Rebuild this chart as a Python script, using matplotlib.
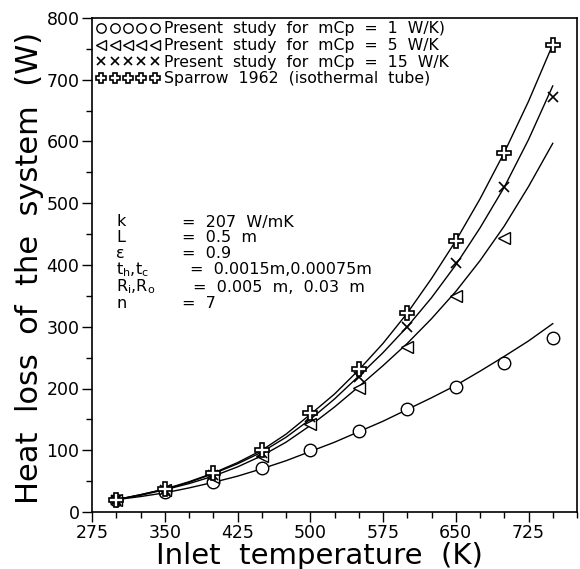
import matplotlib
matplotlib.use("Agg")
import matplotlib.pyplot as plt
import numpy as np

# ---- data ----
T_marker = [300, 350, 400, 450, 500, 550, 600, 650, 700, 750]
q_mcp1 = [20, 32, 49, 71, 101, 131, 167, 202, 241, 282]
T_tri = [300, 350, 400, 450, 500, 550, 600, 650, 700]
q_mcp5 = [20, 35, 57, 90, 143, 201, 267, 350, 444]
q_mcp15 = [20, 36, 60, 95, 154, 219, 300, 403, 526, 672]
q_sparrow = [20, 37, 63, 100, 160, 231, 322, 439, 582, 757]

T_line = [300, 325, 350, 375, 400, 425, 450, 475, 500, 525, 550, 575, 600, 625, 650, 675, 700, 725, 750]
line_mcp1 = [20, 25, 31, 39, 48, 58, 70, 83, 98, 113, 130, 147, 166, 185, 205, 228, 252, 277, 305]
line_mcp5 = [20, 27, 36, 46, 58, 73, 91, 113, 140, 170, 203, 237, 273, 313, 357, 407, 463, 527, 597]
line_mcp15 = [20, 28, 37, 48, 62, 78, 97, 121, 150, 183, 220, 258, 300, 347, 400, 460, 526, 603, 690]
line_sparrow = [20, 28, 37, 49, 63, 80, 100, 126, 158, 191, 230, 273, 322, 378, 439, 507, 582, 665, 757]

legend_labels = ["Present  study  for  mCp  =  1  W/K)",
                 "Present  study  for  mCp  =  5  W/K",
                 "Present  study  for  mCp  =  15  W/K",
                 "Sparrow  1962  (isothermal  tube)"]

x_ticks = [275, 350, 425, 500, 575, 650, 725]
y_ticks = [0, 100, 200, 300, 400, 500, 600, 700, 800]

params_names = ["k", "L", "ε", r"t$_\mathrm{h}$,t$_\mathrm{c}$", r"R$_\mathrm{i}$,R$_\mathrm{o}$", "n"]
params_values = ["=  207  W/mK", "=  0.5  m", "=  0.9", "=  0.0015m,0.00075m", "=  0.005  m,  0.03  m", "=  7"]

# ---- figure ----
W, H = 580, 569
fig = plt.figure(figsize=(W / 100, H / 100), dpi=100)
L, R, B, T = 92, 577, 512, 18
ax = fig.add_axes([L / W, 1 - B / H, (R - L) / W, (B - T) / H])

lw = 1.0
for yl in [line_mcp1, line_mcp5, line_mcp15, line_sparrow]:
    ax.plot(T_line, yl, color="black", lw=lw)

h1, = ax.plot(T_marker, q_mcp1, ls="none", marker="o", ms=9, mfc="white", mec="black", mew=1.0)
h2, = ax.plot(T_tri, q_mcp5, ls="none", marker="<", ms=9, mfc="white", mec="black", mew=1.0)
h3, = ax.plot(T_marker, q_mcp15, ls="none", marker="x", ms=7, color="black", mew=1.2)
h4, = ax.plot(T_marker, q_sparrow, ls="none", marker="P", ms=10, mfc="white", mec="black", mew=1.2)

ax.set_xlim(275, 775)
ax.set_ylim(0, 800)
ax.set_xticks(x_ticks)
ax.set_xticks(np.arange(275, 776, 25), minor=True)
ax.set_yticks(y_ticks)
ax.set_yticks(np.arange(0, 801, 50), minor=True)
ax.tick_params(axis="both", which="major", direction="out", length=7, width=1.0, labelsize=12.5, pad=2)
ax.tick_params(axis="both", which="minor", direction="out", length=4, width=1.0)
for s in ax.spines.values():
    s.set_linewidth(1.2)

ax.set_xlabel("Inlet  temperature  (K)", fontsize=21, labelpad=0)
ax.xaxis.label.set_position(((319 - L) / (R - L), 0))
ax.set_ylabel("Heat  loss  of  the  system  (W)", fontsize=22, labelpad=2)
ax.yaxis.label.set_position((0, (B - 268) / (B - T)))

leg = ax.legend([h1, h2, h3, h4], legend_labels, loc="upper left", bbox_to_anchor=(-0.01, 1.012),
                frameon=False, numpoints=5, handlelength=4.0, handletextpad=0.3,
                fontsize=11.3, labelspacing=0.1, markerscale=0.75, borderaxespad=0.2)

# parameter block
ys = [222, 238, 254, 270, 287, 303]
xeq = [182, 182, 182, 190, 193, 182]
for name, val, yp, xe in zip(params_names, params_values, ys, xeq):
    ax.text((116 - L) / (R - L), (B - yp) / (B - T), name, transform=ax.transAxes,
            fontsize=11.5, va="center", ha="left")
    ax.text((xe - L) / (R - L), (B - yp) / (B - T), val, transform=ax.transAxes,
            fontsize=11.5, va="center", ha="left")

fig.savefig("out.png", dpi=100)
